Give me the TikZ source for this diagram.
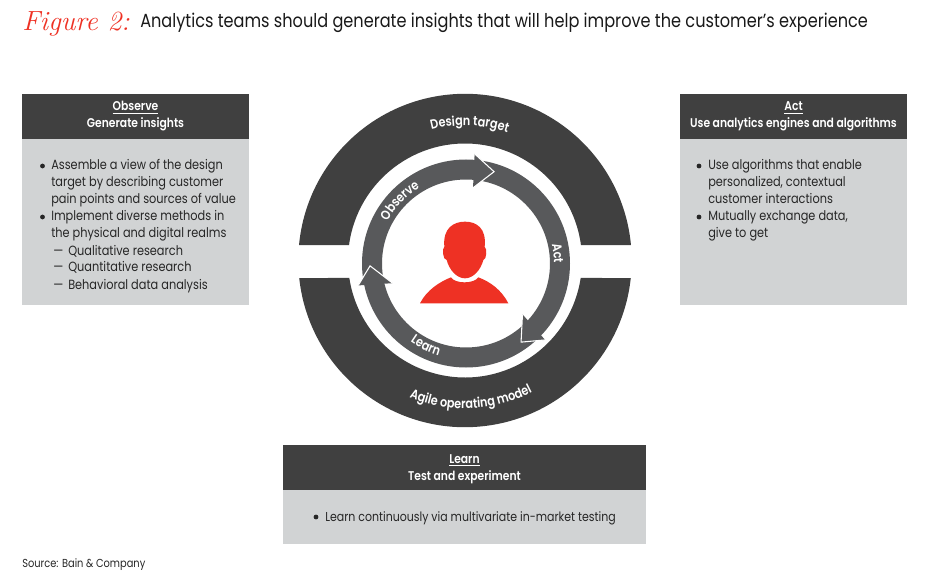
\documentclass[tikz,border=0pt]{standalone}
\usepackage{fontspec}
\usetikzlibrary{decorations.text}
\setsansfont[FakeStretch=0.85,BoldFont={Poppins SemiBold}]{Poppins}
\definecolor{dark}{HTML}{404040}
\definecolor{mid}{HTML}{58595B}
\definecolor{pale}{HTML}{D1D3D4}
\definecolor{bainred}{HTML}{EE3124}
\newcommand\ringfont{\color{white}\sffamily\bfseries\fontsize{9.9}{11}\selectfont}
\tikzset{
 header/.style={fill=dark,draw=none},
 panel/.style={fill=pale,draw=none},
 bodyline/.style={anchor=base west,inner sep=0pt,font=\sffamily\fontsize{10}{11}\selectfont,text=black!85},
 bulletmark/.style={anchor=center,inner sep=0pt,circle,fill=black!85,minimum size=3.6pt},
 headline/.style={anchor=base,inner sep=0pt,font=\sffamily\bfseries\fontsize{9.5}{11}\selectfont,text=white},
 ringtext/.style={decorate,decoration={text along path,text align=center,text={|\ringfont|#1}}},
}
\begin{document}
\begin{tikzpicture}[x=0.75pt,y=0.75pt]
\useasboundingbox (0,0) rectangle (950,583);
% title
\node[anchor=base west,inner sep=0pt,text=bainred,font=\rmfamily\itshape\fontsize{20.8}{24}\selectfont] (fig) at (22,552) {Figure 2:};
\node[anchor=base west,inner sep=0pt,font=\sffamily\fontsize{14.24}{16}\selectfont,text=black!90] (title) at (140,555) {Analytics teams should generate insights that will help improve the customer’s experience};
% left box
\fill[panel] (22,278) rectangle (249,444);
\fill[header] (22,444) rectangle (249,489);
\node[headline] (l1) at (135.5,472) {\underline{Observe}};
\node[headline] (l2) at (135.5,455) {Generate insights};
\foreach \b/\t [count=\i] in {413/Assemble a view of the design,396/target by describing customer,379/pain points and sources of value,362/Implement diverse methods in,345/the physical and digital realms}
  \node[bodyline] (ob\i) at (51,\b) {\t};
\node[bulletmark] (bu1) at (42.5,417) {};
\node[bulletmark] (bu2) at (42.5,366) {};
\foreach \b/\t [count=\i] in {328/Qualitative research,311/Quantitative research,294/Behavioral data analysis}{
  \node[bodyline] (os\i) at (68,\b) {\t};
  \node[bodyline] (od\i) at (53,\b) {—};
}
% right box
\fill[panel] (680,278) rectangle (907,444);
\fill[header] (680,444) rectangle (907,489);
\node[headline] (r1) at (793.5,472) {\underline{Act}};
\node[headline] (r2) at (793.5,455) {Use analytics engines and algorithms};
\foreach \b/\t [count=\i] in {413/Use algorithms that enable,396/{personalized, contextual},379/customer interactions,362/{Mutually exchange data,},345/{give to get}}
  \node[bodyline] (ac\i) at (708,\b) {\t};
\node[bulletmark] (bu3) at (699,417) {};
\node[bulletmark] (bu4) at (699,366) {};
% bottom box
\fill[panel] (283,39) rectangle (646,138);
\fill[header] (283,93) rectangle (646,138);
\node[headline] (b1) at (464.5,120) {\underline{Learn}};
\node[headline] (b2) at (464.5,103) {Test and experiment};
\node[bodyline,font=\sffamily\fontsize{9.7}{11}\selectfont] (b3) at (325,61.5) {Learn continuously via multivariate in-market testing};
\node[bulletmark] (bu5) at (316,66) {};
% source
\node[bodyline,font=\sffamily\fontsize{8.7}{10}\selectfont] (src) at (22,16) {Source: Bain \& Company};
% outer bands
\begin{scope}[shift={(465,322.5)}]
 \fill[dark] (5.33:166.7) arc[start angle=5.33,end angle=174.67,radius=166.7] -- (172.39:117) arc[start angle=172.39,end angle=7.61,radius=117] -- cycle;
 \fill[dark] (186.03:166.7) arc[start angle=186.03,end angle=353.97,radius=166.7] -- (351.4:117) arc[start angle=351.4,end angle=188.6,radius=117] -- cycle;
 \path[ringtext=Design target] (115:135) arc[start angle=115,end angle=61,radius=135];
 \path[ringtext=Agile operating model] (232:148) arc[start angle=232,end angle=313,radius=148];
\end{scope}
% cycle
\begin{scope}[shift={(466,319.5)}]
 \fill[mid,even odd rule] (0,0) circle[radius=104] (0,0) circle[radius=84];
 \foreach \wa/\ta/\wb in {85.5/73/84.7,-44/-55/-42,191.5/181.4/195}{
   \fill[mid] (\wa:110) -- (\ta:96) -- (\wb:76) -- cycle;
   \draw[white,line width=0.8pt,line join=miter] (\wa:110) -- (\ta:96) -- (\wb:76);
 }
 \path[ringtext=Observe] (170:89) arc[start angle=170,end angle=103,radius=89];
 \path[ringtext=Act] (30:88) arc[start angle=30,end angle=-17,radius=88];
 \path[ringtext=Learn] (215:96) arc[start angle=215,end angle=273,radius=96];
\end{scope}
% person
\begin{scope}[shift={(290,493)},x=0.25pt,y=-0.25pt]
 \fill[bainred] (463,470) .. controls (458,415) and (490,395) .. (525,395) .. controls (560,395) and (590,415) .. (584,470) .. controls (592,475) and (590,510) .. (580,510) .. controls (572,540) and (550,565) .. (525,565) .. controls (500,565) and (478,540) .. (470,510) .. controls (458,510) and (456,475) .. (463,470) -- cycle;
 \fill[bainred] (390,640) .. controls (410,600) and (450,575) .. (483,562) .. controls (495,582) and (552,582) .. (565,562) .. controls (600,575) and (635,600) .. (655,640) -- cycle;
\end{scope}
\end{tikzpicture}
\end{document}
